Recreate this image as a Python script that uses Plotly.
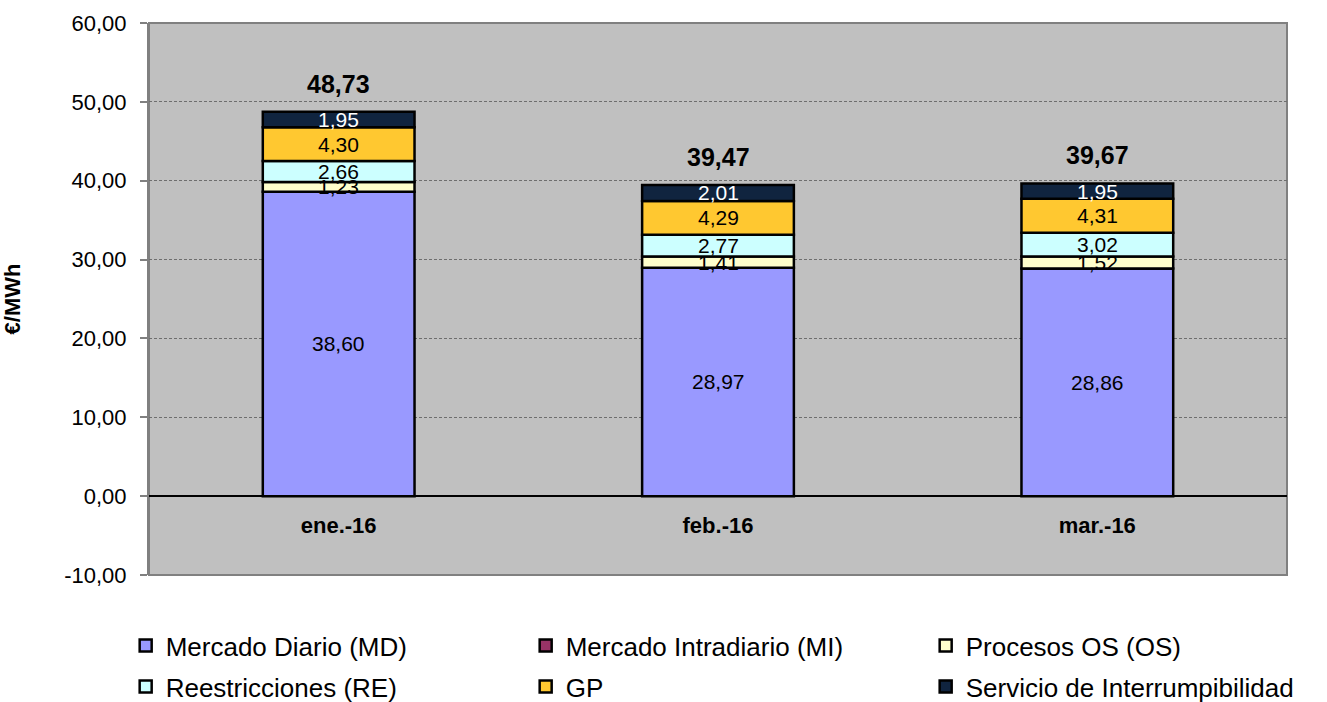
import plotly.graph_objects as go

# ---- data ----
months = ["ene.-16", "feb.-16", "mar.-16"]
md = [38.60, 28.97, 28.86]
mi = [0.00, 0.00, 0.00]
os_ = [1.23, 1.41, 1.52]
re_ = [2.66, 2.77, 3.02]
gp = [4.30, 4.29, 4.31]
si = [1.95, 2.01, 1.95]
totals = [48.73, 39.47, 39.67]
y_ticks = [-10, 0, 10, 20, 30, 40, 50, 60]

names = ["Mercado Diario (MD)", "Mercado Intradiario (MI)", "Procesos OS (OS)",
         "Reestricciones (RE)", "GP", "Servicio de Interrumpibilidad"]
values = [md, mi, os_, re_, gp, si]
colors = ["#9999FF", "#993366", "#FFFFCC", "#CCFFFF", "#FFC830", "#10243F"]
label_colors = ["black", None, "black", "black", "black", "white"]
legends = ["legend", "legend", "legend", "legend2", "legend2", "legend2"]

FONT = "Liberation Sans, Arial, sans-serif"

def fmt(v):
    return f"{v:.2f}".replace(".", ",")

fig = go.Figure()
for n, v, c, lg in zip(names, values, colors, legends):
    fig.add_trace(go.Bar(
        x=months, y=v, name=n, legend=lg,
        marker=dict(color=c, line=dict(color="black", width=2.5)),
    ))

annotations = []
base = [0.0] * len(months)
for v, lc in zip(values, label_colors):
    for i, m in enumerate(months):
        if lc is not None and v[i] != 0:
            annotations.append(dict(
                x=m, y=base[i] + v[i] / 2, xref="x", yref="y", text=fmt(v[i]),
                showarrow=False, font=dict(family=FONT, size=21, color=lc),
                yanchor="middle"))
        base[i] += v[i]

for i, m in enumerate(months):
    annotations.append(dict(
        x=m, y=totals[i], xref="x", yref="y", text="<b>" + fmt(totals[i]) + "</b>",
        showarrow=False, font=dict(family=FONT, size=25, color="black"),
        yanchor="bottom", yshift=12))

fig.update_layout(
    width=1327, height=702,
    margin=dict(l=149, r=40, t=23, b=127, autoexpand=False),
    paper_bgcolor="white", plot_bgcolor="#C0C0C0",
    barmode="relative", bargap=0.6,
    separators=",.",
    font=dict(family=FONT, size=21, color="black"),
    showlegend=True,
    annotations=annotations,
    xaxis=dict(
        anchor="free", position=1/7, showline=True, linecolor="black", linewidth=1.5,
        ticks="", showgrid=False,
        tickfont=dict(family=FONT, size=22, color="black", weight="bold"),
        ticklabelstandoff=10,
    ),
    yaxis=dict(
        range=[-10, 60], tickvals=y_ticks, ticktext=[fmt(t) for t in y_ticks],
        showgrid=True, gridcolor="#6E6E6E", gridwidth=1, griddash="3px,2px",
        zeroline=False,
        showline=True, linecolor="#808080", linewidth=2,
        ticks="outside", ticklen=7, tickcolor="#808080", tickwidth=1.5,
        ticklabelstandoff=9,
        tickfont=dict(family=FONT, size=22, color="black"),
        title=dict(text="<b>€/MWh</b>", font=dict(family=FONT, size=22, color="black"), standoff=40),
    ),
    legend=dict(
        orientation="h", x=-0.0205, xanchor="left", y=-0.128, yanchor="middle",
        entrywidth=355, entrywidthmode="pixels", traceorder="normal",
        font=dict(family=FONT, size=26, color="black"), bgcolor="rgba(0,0,0,0)",
    ),
    legend2=dict(
        orientation="h", x=-0.0205, xanchor="left", y=-0.202, yanchor="middle",
        entrywidth=355, entrywidthmode="pixels", traceorder="normal",
        font=dict(family=FONT, size=26, color="black"), bgcolor="rgba(0,0,0,0)",
    ),
    shapes=[dict(type="rect", xref="paper", yref="paper", x0=0, x1=1, y0=0, y1=1,
                 line=dict(color="#808080", width=2), layer="below")],
)

fig.write_html("out.html", config={"displayModeBar": False},
               post_script="document.body.style.margin='0';")
